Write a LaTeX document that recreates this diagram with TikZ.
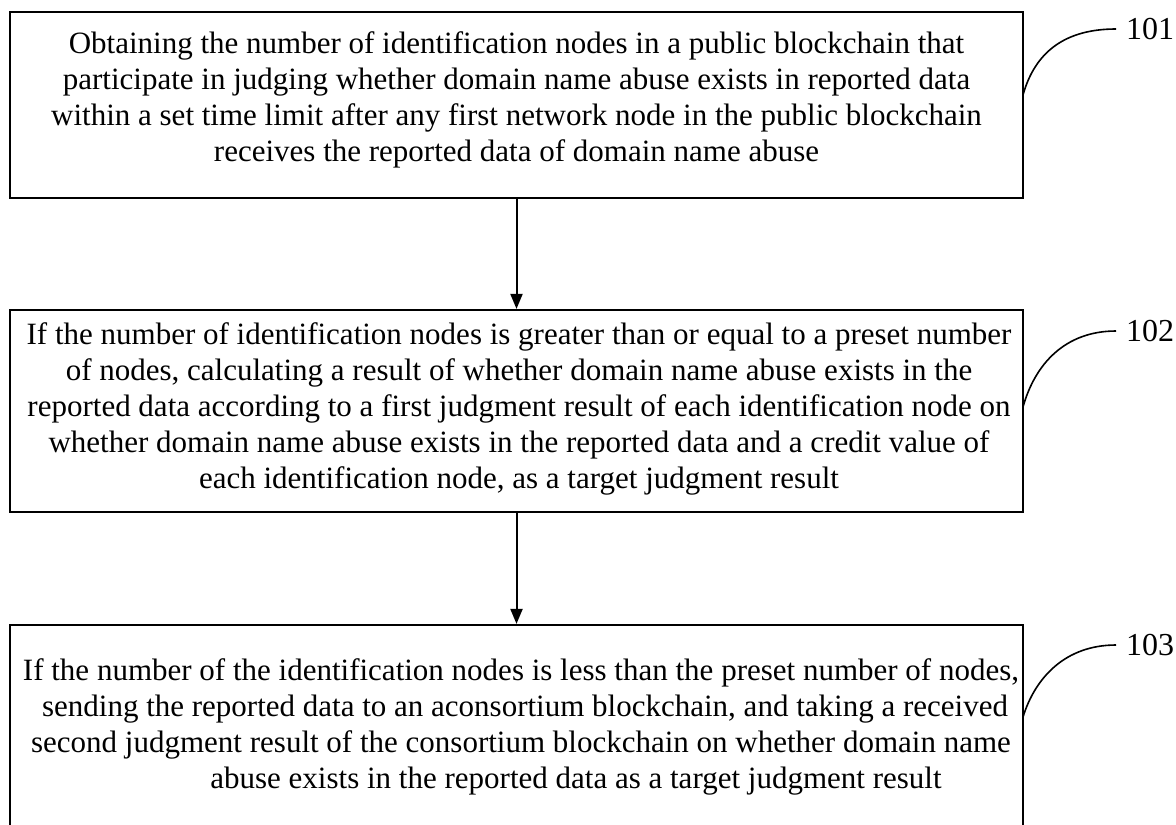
\documentclass[tikz,border=0pt]{standalone}
\usepackage{fontspec}
\setmainfont{Liberation Serif}
\usetikzlibrary{arrows.meta}
\begin{document}
\begin{tikzpicture}[x=1pt,y=1pt,
  stepbox/.style={draw=black, line width=2.2pt, minimum width=1013pt, inner sep=0pt},
  boxtext/.style={align=center, font=\fontsize{31}{36}\selectfont, inner sep=0pt},
  flow/.style={draw=black, line width=2pt, -{Triangle[length=15pt,width=12pt]}},
  leader/.style={draw=black, line width=1.6pt},
  lab/.style={font=\fontsize{32}{36}\selectfont, anchor=west, inner xsep=10pt, inner ysep=0pt}]
\useasboundingbox (0,0) rectangle (1176,-825);
\fill[white] (0,0) rectangle (1176,-825);
\begin{scope}
\clip (0,0) rectangle (1176,-825);
\node[stepbox, minimum height=186pt] (b1) at (516.5,-105) {};
\node[boxtext] (t1) at (516.5,-100) {Obtaining the number of identification nodes in a public blockchain that\\
participate in judging whether domain name abuse exists in reported data\\
within a set time limit after any first network node in the public blockchain\\
receives the reported data of domain name abuse};
\node[stepbox, minimum height=202pt] (b2) at (516.5,-411) {};
\node[boxtext] (t2) at (519,-409) {If the number of identification nodes is greater than or equal to a preset number\\
of nodes, calculating a result of whether domain name abuse exists in the\\
reported data according to a first judgment result of each identification node on\\
whether domain name abuse exists in the reported data and a credit value of\\
each identification node, as a target judgment result};
\node[stepbox, minimum height=220pt] (b3) at (516.5,-735) {};
\node[boxtext] (t3) at (521,-727) {If the number of the identification nodes is less than the preset number of nodes,\\
\hspace*{8pt}sending the reported data to an aconsortium blockchain, and taking a received\\
second judgment result of the consortium blockchain on whether domain name\\
\hspace*{110pt}abuse exists in the reported data as a target judgment result};
\end{scope}
\draw[flow] (b1.south) -- (b2.north);
\draw[flow] (b2.south) -- (b3.north);
\coordinate (c1) at (1023,-95);
\coordinate (c2) at (1023,-407);
\coordinate (c3) at (1023,-717);
\node[lab] (l1) at (1116,-29) {101};
\node[lab] (l2) at (1116,-331) {102};
\node[lab] (l3) at (1116,-645) {103};
\draw[leader] (c1) .. controls (1035,-52) and (1065,-29) .. (l1.west);
\draw[leader] (c2) .. controls (1035,-364) and (1065,-331) .. (l2.west);
\draw[leader] (c3) .. controls (1035,-678) and (1065,-645) .. (l3.west);
\end{tikzpicture}
\end{document}
